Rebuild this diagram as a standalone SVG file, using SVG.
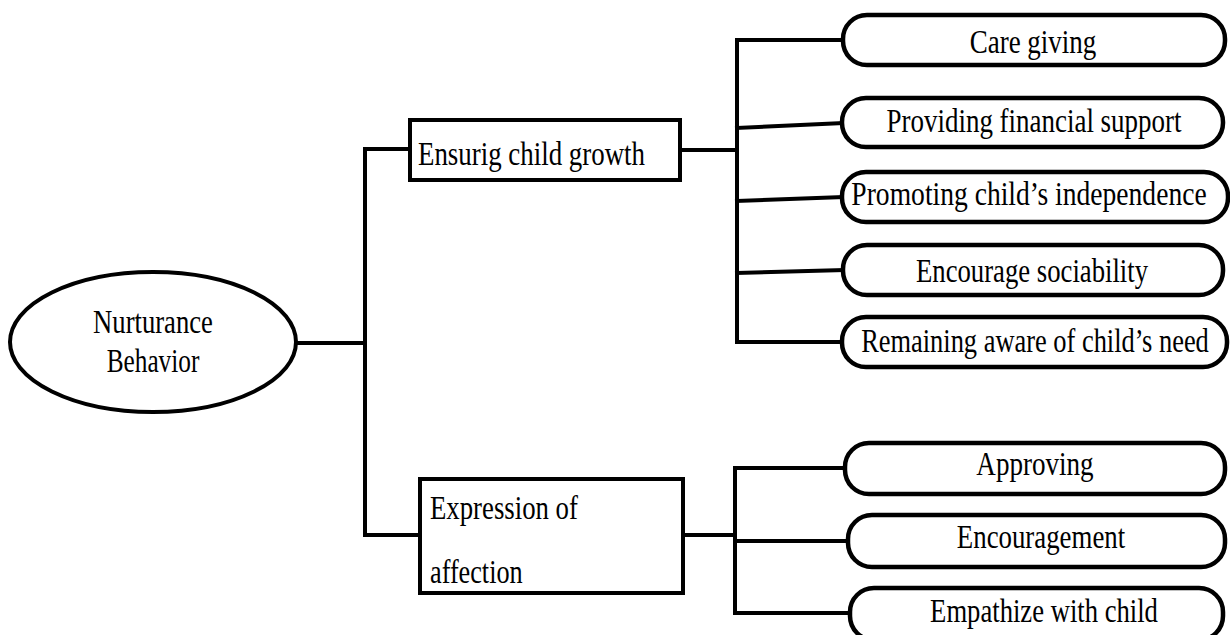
<svg xmlns="http://www.w3.org/2000/svg" width="1230" height="635" viewBox="0 0 1230 635">
<style>
.shape{fill:#fff;stroke:#000;stroke-width:4}
.pill{fill:#fff;stroke:#000;stroke-width:4.5}
.lbl{font-family:"Liberation Serif","Times New Roman",serif;font-size:33px;fill:#000}
.mid{text-anchor:middle}
.conn{fill:none;stroke:#000;stroke-width:4;stroke-linejoin:miter;stroke-linecap:square}
</style>
<g id="connectors">
<path class="conn" d="M297 343 H365"/>
<path class="conn" d="M365 535 V149 H410"/>
<path class="conn" d="M365 535 H420"/>
<path class="conn" d="M680 150 H737"/>
<path class="conn" d="M843 40 H737 V342 H842"/>
<path class="conn" d="M737 128 L842 123"/>
<path class="conn" d="M737 201 L842 197"/>
<path class="conn" d="M737 273 L843 270"/>
<path class="conn" d="M683 535 H735"/>
<path class="conn" d="M845 468 H735 V613 H850"/>
<path class="conn" d="M735 541 H848"/>
</g>
<g id="root">
<ellipse class="shape" cx="153" cy="342" rx="143" ry="70"/>
<g transform="translate(153,333) scale(0.85,1)"><text class="lbl mid" x="0" y="0" textLength="141" lengthAdjust="spacingAndGlyphs">Nurturance</text></g>
<g transform="translate(153,372) scale(0.85,1)"><text class="lbl mid" x="0" y="0" textLength="109" lengthAdjust="spacingAndGlyphs">Behavior</text></g>
</g>
<g id="growth">
<rect class="shape" x="410" y="120" width="270" height="60"/>
<g transform="translate(418,165) scale(0.85,1)"><text class="lbl" x="0" y="0" textLength="267" lengthAdjust="spacingAndGlyphs">Ensurig child growth</text></g>
</g>
<g id="affection">
<rect class="shape" x="420" y="479" width="263" height="114"/>
<g transform="translate(430,519) scale(0.85,1)"><text class="lbl" x="0" y="0" textLength="174" lengthAdjust="spacingAndGlyphs">Expression of</text></g>
<g transform="translate(430,583) scale(0.85,1)"><text class="lbl" x="0" y="0" textLength="109" lengthAdjust="spacingAndGlyphs">affection</text></g>
</g>
<g id="care">
<rect class="pill" x="843" y="15" width="382" height="50" rx="24"/>
<g transform="translate(1033,53) scale(0.85,1)"><text class="lbl mid" x="0" y="0" textLength="149" lengthAdjust="spacingAndGlyphs">Care giving</text></g>
</g>
<g id="financial">
<rect class="pill" x="842" y="98" width="381" height="49" rx="24"/>
<g transform="translate(1034,132) scale(0.85,1)"><text class="lbl mid" x="0" y="0" textLength="347" lengthAdjust="spacingAndGlyphs">Providing financial support</text></g>
</g>
<g id="independence">
<rect class="pill" x="842" y="172" width="386" height="50" rx="24"/>
<g transform="translate(1029,205) scale(0.85,1)"><text class="lbl mid" x="0" y="0" textLength="418" lengthAdjust="spacingAndGlyphs">Promoting child’s independence</text></g>
</g>
<g id="sociability">
<rect class="pill" x="843" y="245" width="380" height="50" rx="24"/>
<g transform="translate(1032,282) scale(0.85,1)"><text class="lbl mid" x="0" y="0" textLength="273" lengthAdjust="spacingAndGlyphs">Encourage sociability</text></g>
</g>
<g id="aware">
<rect class="pill" x="842" y="317" width="385" height="50" rx="24"/>
<g transform="translate(1035,352) scale(0.85,1)"><text class="lbl mid" x="0" y="0" textLength="409" lengthAdjust="spacingAndGlyphs">Remaining aware of child’s need</text></g>
</g>
<g id="approving">
<rect class="pill" x="845" y="443" width="380" height="51" rx="24"/>
<g transform="translate(1035,475) scale(0.85,1)"><text class="lbl mid" x="0" y="0" textLength="138" lengthAdjust="spacingAndGlyphs">Approving</text></g>
</g>
<g id="encouragement">
<rect class="pill" x="848" y="515" width="377" height="52" rx="24"/>
<g transform="translate(1041,548) scale(0.85,1)"><text class="lbl mid" x="0" y="0" textLength="198" lengthAdjust="spacingAndGlyphs">Encouragement</text></g>
</g>
<g id="empathize">
<rect class="pill" x="850" y="588" width="373" height="52" rx="24"/>
<g transform="translate(1044,622) scale(0.85,1)"><text class="lbl mid" x="0" y="0" textLength="268" lengthAdjust="spacingAndGlyphs">Empathize with child</text></g>
</g>
</svg>
